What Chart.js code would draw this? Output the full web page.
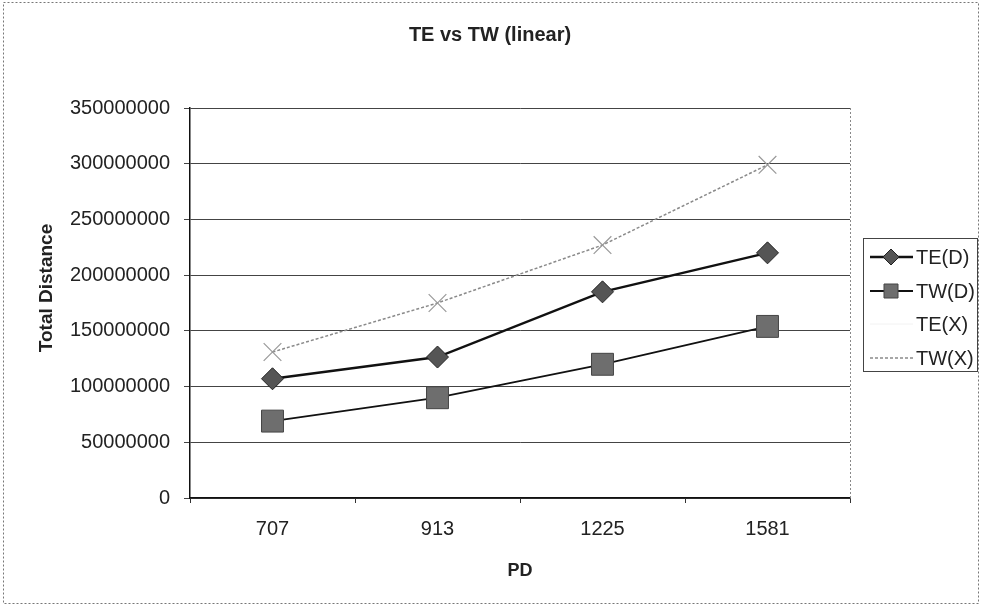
<!DOCTYPE html>
<html>
<head>
<meta charset="utf-8">
<title>TE vs TW (linear)</title>
<script src="https://cdn.jsdelivr.net/npm/chart.js@4.4.1/dist/chart.umd.min.js"></script>
<style>
  html, body { margin: 0; padding: 0; background: #fff; }
  #wrap { width: 981px; height: 607px; }
</style>
</head>
<body>
<div id="wrap"><canvas id="distChart" width="981" height="607"></canvas></div>
<script>
// PD values along the x axis
const pdLabels = ["707", "913", "1225", "1581"];

// total distance per series
const teD = [107000000, 126500000, 185000000, 220000000];
const twD = [69000000, 90000000, 120000000, 154000000];
const teX = [107000000, 126500000, 185000000, 220000000];
const twX = [131000000, 175000000, 227000000, 299000000];

const yTicks = [0, 50000000, 100000000, 150000000, 200000000, 250000000, 300000000, 350000000];

const FONT = "'Liberation Sans', Arial, sans-serif";
const INK = "#222";

/* ---------- title, axis title, frame, plot border and legend ---------- */
const decorPlugin = {
    id: "decor",
    afterDraw(chart) {
        const ctx = chart.ctx;
        const area = chart.chartArea;
        ctx.save();

        // outer frame
        ctx.strokeStyle = "#777";
        ctx.lineWidth = 1;
        ctx.setLineDash([2, 2]);
        ctx.strokeRect(3.5, 2.5, 975, 601);

        // right edge of the plot area
        ctx.strokeStyle = "#888";
        ctx.beginPath();
        ctx.moveTo(area.right + 0.5, area.top);
        ctx.lineTo(area.right + 0.5, area.bottom);
        ctx.stroke();
        ctx.setLineDash([]);

        // title
        ctx.fillStyle = INK;
        ctx.font = "bold 20px " + FONT;
        ctx.textAlign = "center";
        ctx.textBaseline = "middle";
        ctx.fillText("TE vs TW (linear)", 490, 35);

        // y axis title
        ctx.save();
        ctx.translate(47, 288);
        ctx.rotate(-Math.PI / 2);
        ctx.font = "bold 19px " + FONT;
        ctx.fillText("Total Distance", 0, 0);
        ctx.restore();

        // legend box
        ctx.strokeStyle = "#444";
        ctx.lineWidth = 1;
        ctx.strokeRect(863.5, 238.5, 114, 133);

        const rowY = [257, 291, 324, 358];
        ctx.font = "20px " + FONT;
        ctx.textAlign = "left";
        chart.data.datasets.forEach((ds, i) => {
            const y = rowY[i];
            ctx.strokeStyle = ds.borderColor;
            ctx.lineWidth = ds.borderWidth;
            ctx.setLineDash(ds.borderDash || []);
            ctx.beginPath();
            ctx.moveTo(870, y);
            ctx.lineTo(913, y);
            ctx.stroke();
            ctx.setLineDash([]);
            if (ds.legendRadius > 0) {
                ctx.fillStyle = ds.pointBackgroundColor;
                ctx.strokeStyle = ds.pointBorderColor;
                ctx.lineWidth = ds.pointBorderWidth;
                ctx.beginPath();
                drawMarker(ctx, ds.pointStyle, 891, y, ds.legendRadius);
            }
            ctx.fillStyle = INK;
            ctx.fillText(ds.label, 916, y + 1);
        });
        ctx.restore();
    }
};

// small marker for the legend rows
function drawMarker(ctx, style, x, y, r) {
    if (style === "rectRot") {
        ctx.moveTo(x, y - r); ctx.lineTo(x + r, y); ctx.lineTo(x, y + r); ctx.lineTo(x - r, y);
        ctx.closePath(); ctx.fill(); ctx.stroke();
    } else if (style === "rect") {
        ctx.rect(x - r, y - r, 2 * r, 2 * r); ctx.fill(); ctx.stroke();
    }
}

const ctx = document.getElementById("distChart");
new Chart(ctx, {
    type: "line",
    data: {
        labels: pdLabels,
        datasets: [
            {
                label: "TE(D)",
                data: teD,
                borderColor: "#111",
                borderWidth: 2.4,
                pointStyle: "rectRot",
                pointRadius: 11,
                legendRadius: 8,
                pointBackgroundColor: "#555",
                pointBorderColor: "#222",
                pointBorderWidth: 1,
                tension: 0
            },
            {
                label: "TW(D)",
                data: twD,
                borderColor: "#111",
                borderWidth: 1.8,
                pointStyle: "rect",
                pointRadius: 15.5,
                legendRadius: 7,
                pointBackgroundColor: "#6e6e6e",
                pointBorderColor: "#444",
                pointBorderWidth: 1,
                tension: 0
            },
            {
                label: "TE(X)",
                data: teX,
                borderColor: "#f2f2f2",
                borderWidth: 1,
                pointRadius: 0,
                legendRadius: 0,
                tension: 0
            },
            {
                label: "TW(X)",
                data: twX,
                borderColor: "#8a8a8a",
                borderWidth: 1.5,
                borderDash: [3, 2],
                pointStyle: "crossRot",
                pointRadius: 12.5,
                legendRadius: 0,
                pointBackgroundColor: "#999",
                pointBorderColor: "#999",
                pointBorderWidth: 1.2,
                tension: 0
            }
        ]
    },
    options: {
        responsive: false,
        devicePixelRatio: 1,
        animation: false,
        layout: { padding: { left: 0, right: 131, top: 108, bottom: 0 } },
        plugins: {
            legend: { display: false },
            title: { display: false },
            tooltip: { enabled: false }
        },
        scales: {
            x: {
                type: "category",
                offset: true,
                afterFit: s => { s.height = 109; },
                grid: {
                    display: true,
                    offset: true,
                    drawOnChartArea: false,
                    tickLength: 5,
                    color: "#333"
                },
                border: { display: true, color: "#111", width: 1.5 },
                ticks: {
                    color: INK,
                    padding: 14,
                    maxRotation: 0,
                    font: { family: FONT, size: 20 }
                },
                title: {
                    display: true,
                    text: "PD",
                    color: INK,
                    font: { family: FONT, size: 18, weight: "bold" },
                    padding: { top: 4, bottom: 25 }
                }
            },
            y: {
                min: 0,
                max: 350000000,
                afterFit: s => { s.width = 190; },
                afterBuildTicks: s => { s.ticks = yTicks.map(v => ({ value: v })); },
                grid: {
                    color: "#444",
                    lineWidth: 1,
                    tickLength: 6
                },
                border: { display: true, color: "#111", width: 1.5 },
                ticks: {
                    color: INK,
                    padding: 14,
                    font: { family: FONT, size: 20 },
                    callback: v => String(v)
                }
            }
        }
    },
    plugins: [decorPlugin]
});
</script>
</body>
</html>
